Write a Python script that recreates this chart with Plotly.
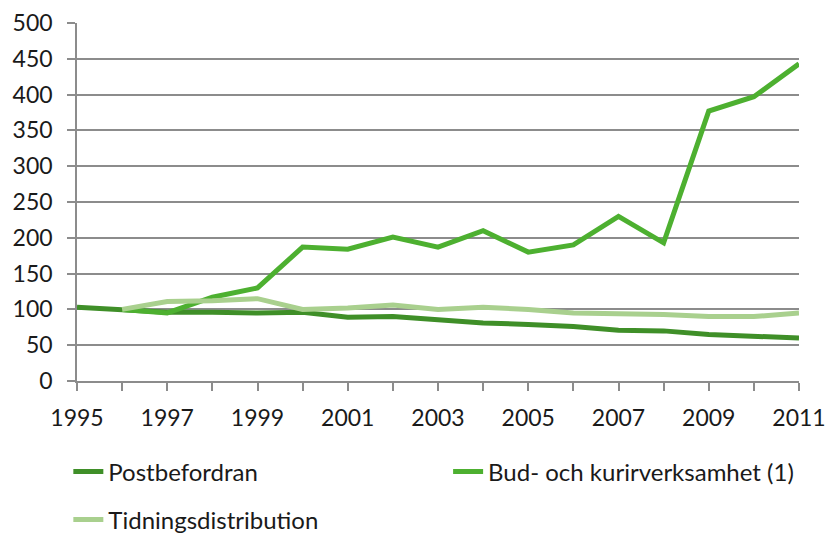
import plotly.graph_objects as go

years = list(range(1995, 2012))
post = [103, 99, 96, 96, 95, 96, 89, 90, 85, 81, 79, 76, 71, 70, 65, 63, 60]
bud_years = list(range(1996, 2012))
bud = [100, 95, 117, 130, 187, 184, 201, 187, 210, 180, 190, 230, 193, 377, 397, 443]
tidn_years = list(range(1996, 2012))
tidn = [100, 111, 112, 115, 100, 102, 106, 100, 103, 100, 95, 94, 93, 90, 90, 95]

y_ticks = list(range(0, 501, 50))
x_ticks = list(range(1995, 2012, 2))

grey = '#8c8c8c'
font = dict(family='Lato, Noto Sans, sans-serif', size=23, color='#1a1a1a')

fig = go.Figure()
fig.add_trace(go.Scatter(x=years, y=post, mode='lines', name='Postbefordran',
    line=dict(color='#3f8f28', width=5), legend='legend'))
fig.add_trace(go.Scatter(x=bud_years, y=bud, mode='lines', name='Bud- och kurirverksamhet (1)',
    line=dict(color='#4db030', width=5), legend='legend2'))
fig.add_trace(go.Scatter(x=tidn_years, y=tidn, mode='lines', name='Tidningsdistribution',
    line=dict(color='#a9d08e', width=5), legend='legend3'))

leg_common = dict(orientation='h', xanchor='left', yanchor='middle', font=dict(size=24),
                  bgcolor='rgba(0,0,0,0)')

fig.update_layout(
    width=826, height=533, template='plotly_white', showlegend=True,
    paper_bgcolor='white', plot_bgcolor='white', font=font,
    margin=dict(l=77, r=27, t=23, b=152, autoexpand=False),
    xaxis=dict(range=[1995, 2011], tickvals=x_ticks, showgrid=False, zeroline=False,
        showline=True, linecolor=grey, linewidth=1.5,
        ticks='outside', ticklen=8, tickcolor=grey, tickwidth=1.5, ticklabelstandoff=8,
        minor=dict(dtick=1, tick0=1995, ticks='outside', ticklen=8, tickcolor=grey, tickwidth=1.5, showgrid=False)),
    yaxis=dict(range=[0, 500], tickvals=y_ticks, showgrid=True, gridcolor=grey, gridwidth=1.5,
        zeroline=False, showline=True, linecolor=grey, linewidth=1.5,
        ticks='outside', ticklen=8, tickcolor=grey, tickwidth=1.5, ticklabelstandoff=10),
    legend=dict(x=-0.012, y=-0.254, **leg_common),
    legend2=dict(x=0.514, y=-0.254, **leg_common),
    legend3=dict(x=-0.012, y=-0.388, **leg_common),
)

fig.write_html("out.html", config={'displayModeBar': False},
               post_script="document.body.style.margin='0';")
